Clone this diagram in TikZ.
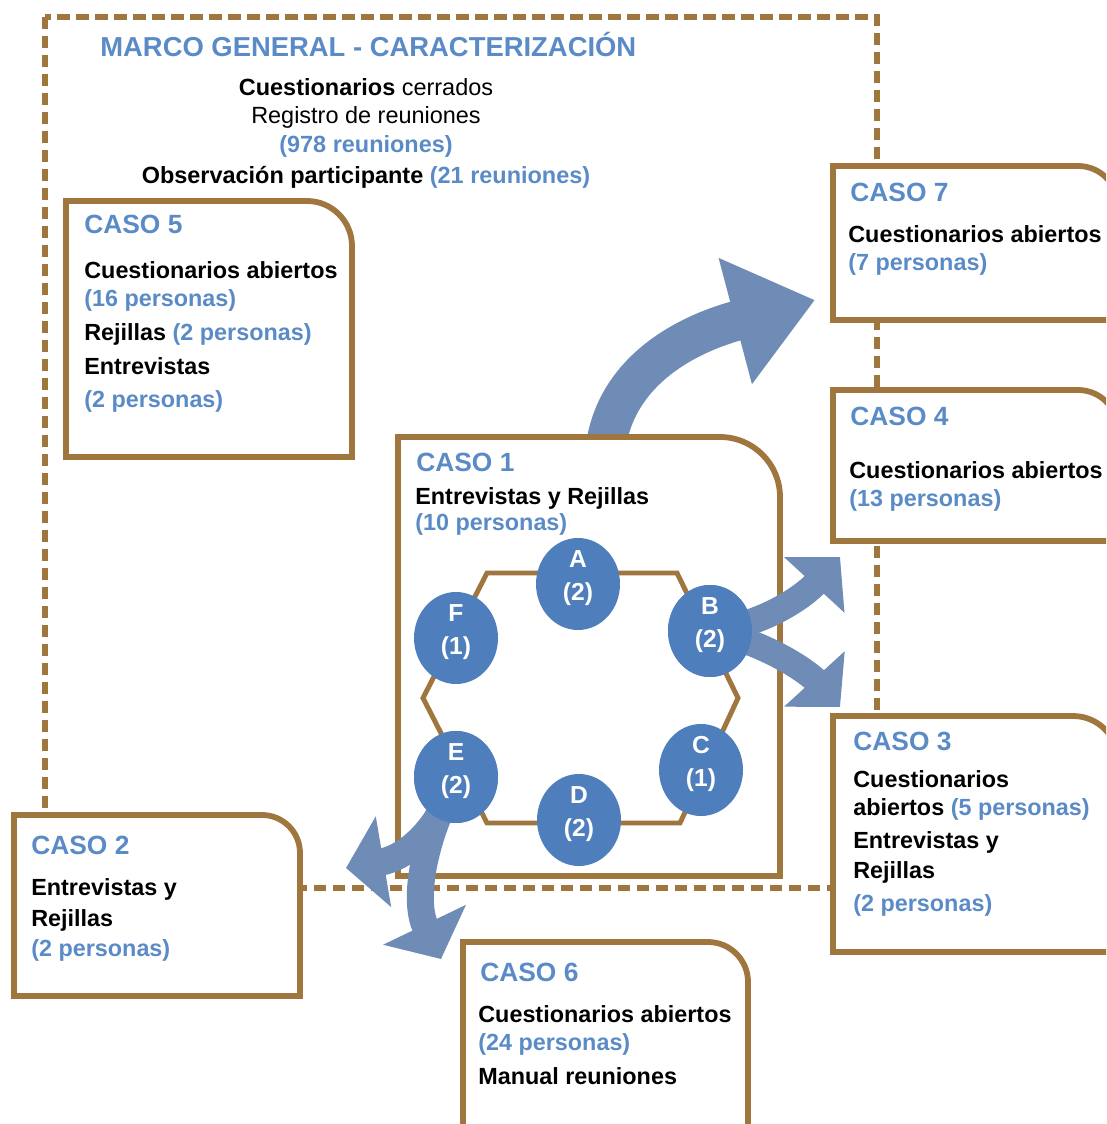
\documentclass[tikz,border=0pt]{standalone}
\usepackage{fontspec}
\setmainfont{Liberation Sans}
\usetikzlibrary{arrows.meta,shapes.geometric,shadows}

\definecolor{framebrown}{HTML}{A0763F}
\definecolor{bluetxt}{HTML}{5B8BC7}
\definecolor{discblue}{HTML}{4F7EBD}
\definecolor{flowblue}{HTML}{6F8CB6}

\newcommand\titlef{\fontsize{15pt}{18pt}\selectfont\bfseries}
\newcommand\bodyf{\fontsize{13.3pt}{16pt}\selectfont\bfseries}
\newcommand\blu[1]{\textcolor{bluetxt}{#1}}

% case box: left, top, right, bottom, radius of the rounded top-right corner
\newcommand\casebox[5]{%
  \path[casefill] (#1,#4) -- (#1,#2) -- ({#3-#5},#2)
    .. controls ({#3-0.448*#5},#2) and (#3,{#2+0.448*#5}) .. (#3,{#2+#5})
    -- (#3,#4) -- cycle;}

\tikzset{
  casefill/.style={draw=framebrown, line width=3.3pt, fill=white,
    drop shadow={shadow xshift=0.6pt, shadow yshift=-1.6pt, opacity=0.3}},
  outerframe/.style={draw=framebrown, line width=2.9pt, dash pattern=on 0.25cm off 0.13cm},
  hexline/.style={draw=framebrown, line width=2.8pt, line join=miter},
  ttl/.style={anchor=base west, inner sep=0pt, text=bluetxt, font=\titlef},
  txt/.style={anchor=base west, inner sep=0pt, font=\bodyf},
  ctxt/.style={anchor=base, inner sep=0pt, font=\fontsize{13.35pt}{16pt}\selectfont},
  disc/.style={ellipse, fill=discblue, minimum width=1.68cm, minimum height=1.84cm, inner sep=0pt},
  disctext/.style={inner sep=0pt, text=white, align=center,
    font=\fontsize{14pt}{18.5pt}\selectfont\bfseries},
  bigflow/.style={draw=flowblue, line width=0.8cm,
    -{Triangle[length=1.65cm, width=2.5cm]}},
  smallflow/.style={draw=flowblue, line width=0.52cm,
    -{Triangle[length=0.76cm, width=1.6cm]}},
  sideflow/.style={draw=flowblue, line width=0.54cm,
    -{Triangle[length=0.76cm, width=1.8cm]}},
}

\begin{document}
\begin{tikzpicture}[x=0.02cm, y=-0.02cm]
  \useasboundingbox (0,0) rectangle (1106,1124);
  \clip (0,0) rectangle (1106,1124);

  % general frame
  \draw[outerframe] (45,17) rectangle (877,888);

  % arrow from case 1 up to case 7
  \coordinate (up0) at (606,445);
  \coordinate (up1) at (815,300);
  \draw[bigflow] (up0) .. controls (618,368) and (690,333) .. (up1);

  % case boxes
  \casebox{66}{201}{352}{457}{45}
  \casebox{398}{437}{780}{876}{60}
  \casebox{833}{166}{1118}{320}{40}
  \casebox{833}{390}{1118}{541}{40}
  \casebox{833}{716}{1118}{952}{45}
  \casebox{14}{815}{300}{996}{38}
  \casebox{463}{942}{748}{1140}{40}

  % hexagon linking the six groups
  \coordinate (h1) at (487,573);
  \coordinate (h2) at (677,573);
  \coordinate (h3) at (738,698);
  \coordinate (h4) at (680,823);
  \coordinate (h5) at (487,823);
  \coordinate (h6) at (423,698);
  \draw[hexline] (h1) -- (h2) -- (h3) -- (h4) -- (h5) -- (h6) -- cycle;

  % group discs
  \node[disc] (A) at (578,584) {};
  \node[disc] (B) at (710,631) {};
  \node[disc] (C) at (701,770) {};
  \node[disc] (D) at (579,820) {};
  \node[disc] (E) at (456,777) {};
  \node[disc] (F) at (456,638) {};

  % arrows leaving groups B and E
  \coordinate (bu) at (840,557);
  \coordinate (bd) at (840,707);
  \coordinate (el) at (346,868);
  \coordinate (ed) at (441,959);
  \draw[smallflow] (B.center) .. controls (765,625) and (805,595) .. (bu);
  \draw[smallflow] (B.center) .. controls (765,642) and (808,672) .. (bd);
  \draw[sideflow] (E.center) .. controls (440,830) and (405,858) .. (el);
  \draw[sideflow] (E.center) .. controls (418,850) and (415,905) .. (ed);

  % discs again on top of the arrow tails
  \node[disc] (B2) at (710,631) {};
  \node[disc] (E2) at (456,777) {};

  \node[disctext] (Al) at (578,578) {A\\(2)};
  \node[disctext] (Bl) at (710,625) {B\\(2)};
  \node[disctext] (Cl) at (701,764) {C\\(1)};
  \node[disctext] (Dl) at (579,814) {D\\(2)};
  \node[disctext] (El) at (456,771) {E\\(2)};
  \node[disctext] (Fl) at (456,632) {F\\(1)};

  % general frame texts
  \node[ttl, font=\fontsize{15.6pt}{18pt}\selectfont\bfseries] (mg) at (100,57) {MARCO GENERAL - CARACTERIZACIÓN};
  \node[ctxt] (mg1) at (366,96) {\textbf{Cuestionarios} cerrados};
  \node[ctxt] (mg2) at (366,124) {Registro de reuniones};
  \node[ctxt] (mg3) at (366,153) {\bfseries\blu{(978 reuniones)}};
  \node[ctxt] (mg4) at (366,184) {\bfseries Observación participante \blu{(21 reuniones)}};

  % case 5
  \node[ttl] (c5) at (84,234) {CASO 5};
  \node[txt] (c5a) at (84,279) {Cuestionarios abiertos};
  \node[txt] (c5b) at (84,307) {\blu{(16 personas)}};
  \node[txt] (c5c) at (84,341) {Rejillas \blu{(2 personas)}};
  \node[txt] (c5d) at (84,375) {Entrevistas};
  \node[txt] (c5e) at (84,408) {\blu{(2 personas)}};

  % case 1
  \node[ttl] (c1) at (416,471) {CASO 1};
  \node[txt] (c1a) at (415,504) {Entrevistas y Rejillas};
  \node[txt] (c1b) at (415,530) {\blu{(10 personas)}};

  % case 7
  \node[ttl] (c7) at (850,202) {CASO 7};
  \node[txt] (c7a) at (848,243) {Cuestionarios abiertos};
  \node[txt] (c7b) at (848,271) {\blu{(7 personas)}};

  % case 4
  \node[ttl] (c4) at (850,425) {CASO 4};
  \node[txt] (c4a) at (849,478) {Cuestionarios abiertos};
  \node[txt] (c4b) at (849,506) {\blu{(13 personas)}};

  % case 3
  \node[ttl] (c3) at (853,750) {CASO 3};
  \node[txt] (c3a) at (853,787) {Cuestionarios};
  \node[txt] (c3b) at (853,815) {abiertos \blu{(5 personas)}};
  \node[txt] (c3c) at (853,848) {Entrevistas y};
  \node[txt] (c3d) at (853,878) {Rejillas};
  \node[txt] (c3e) at (853,911) {\blu{(2 personas)}};

  % case 2
  \node[ttl] (c2) at (31,854) {CASO 2};
  \node[txt] (c2a) at (31,895) {Entrevistas y};
  \node[txt] (c2b) at (31,926) {Rejillas};
  \node[txt] (c2c) at (31,956) {\blu{(2 personas)}};

  % case 6
  \node[ttl] (c6) at (480,981) {CASO 6};
  \node[txt] (c6a) at (478,1022) {Cuestionarios abiertos};
  \node[txt] (c6b) at (478,1050) {\blu{(24 personas)}};
  \node[txt] (c6c) at (478,1084) {Manual reuniones};
\end{tikzpicture}
\end{document}
